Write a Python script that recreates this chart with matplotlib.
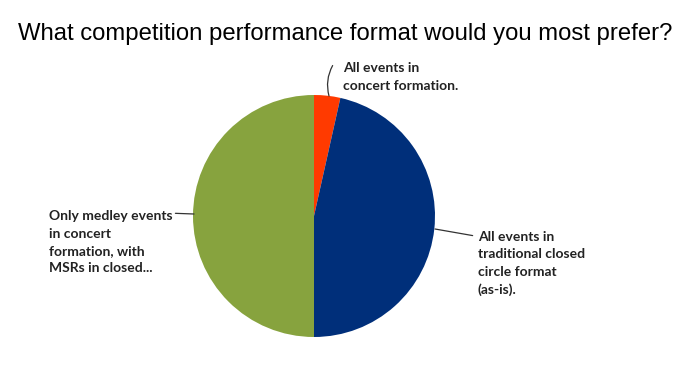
import matplotlib.pyplot as plt

# Survey answers and their shares (percent)
labels = ['All events in\nconcert formation.',
          'All events in\ntraditional closed\ncircle format\n(as-is).',
          'Only medley events\nin concert\nformation, with\nMSRs in closed...']
shares = [3.5, 46.5, 50.0]
colors = ['#FF3A00', '#002F7A', '#87A33E']

fig = plt.figure(figsize=(6.9, 3.7), dpi=100)
ax = fig.add_axes([0, 0, 1, 1])

# pie in pixel-like coordinates (y up)
cx, cy, r = 314, 154, 121
ax.pie(shares, colors=colors, startangle=90, counterclock=False,
       center=(cx, cy), radius=r, wedgeprops=dict(linewidth=0))
ax.set_xlim(0, 690)
ax.set_ylim(0, 370)
ax.set_aspect('auto')
ax.axis('off')

fig.text(0.5, 0.908, 'What competition performance format would you most prefer?',
         ha='center', va='center', fontsize=17.2, family='Liberation Sans')

lab = dict(fontsize=10, fontweight='bold', family='Lato', color='#222222',
           linespacing=1.55, va='top')
line = dict(color='#333333', lw=0.9)

# small red slice: curved leader going up to the label
ax.annotate(labels[0], xy=(329, 274), xytext=(343, 308), ha='left',
            arrowprops=dict(arrowstyle='-', connectionstyle='arc3,rad=0.2',
                            shrinkA=0, shrinkB=0, relpos=(-0.09, 0.88), **line), **lab)
ax.annotate(labels[1], xy=(435, 141), xytext=(478, 139), ha='left',
            arrowprops=dict(arrowstyle='-', shrinkA=0, shrinkB=0,
                            relpos=(-0.05, 0.93), **line), **lab)
ax.annotate(labels[2], xy=(194, 156), xytext=(49, 160), ha='left',
            arrowprops=dict(arrowstyle='-', shrinkA=0, shrinkB=0,
                            relpos=(1.0, 0.95), **line), **lab)

fig.savefig('out.png', dpi=100)
